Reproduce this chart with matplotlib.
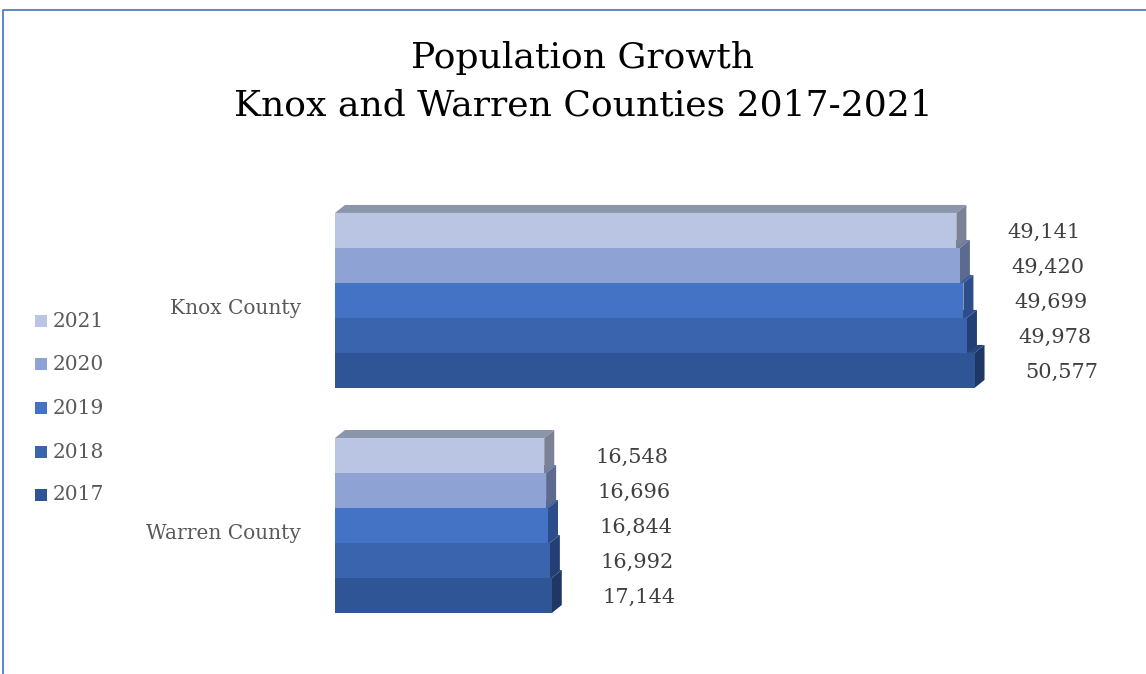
import matplotlib.pyplot as plt
from matplotlib.patches import Polygon, Rectangle
from matplotlib.lines import Line2D

# population by county, one list per year (bottom row first)
counties = ["Warren County", "Knox County"]
years = ["2017", "2018", "2019", "2020", "2021"]
warren_pop = [17144, 16992, 16844, 16696, 16548]
knox_pop = [50577, 49978, 49699, 49420, 49141]

# face colours per year: front, top, side
front_colors = ["#2F5597", "#3A64AD", "#4472C4", "#8FA2D4", "#BAC4E3"]
top_colors = ["#27467C", "#2F528F", "#375DA0", "#6B7AA3", "#8C96AB"]
side_colors = ["#1F3764", "#243F73", "#2C4C8A", "#5B6A8E", "#7B8296"]

FIG_W, FIG_H, DPI = 1146, 674, 100
FONT = "DejaVu Serif"


def px_box(left, top, right, bottom):
    """Figure-fraction rectangle from pixel edges."""
    return [left / FIG_W, 1 - bottom / FIG_H, (right - left) / FIG_W, (bottom - top) / FIG_H]


def draw_bar(ax, y0, value, front, top, side, dx, dy):
    """Front face, top face and right side of one 3D-looking bar."""
    y1 = y0 + 1
    ax.add_patch(Polygon([(0, y1), (dx, y1 + dy), (value + dx, y1 + dy), (value, y1)],
                         closed=True, facecolor=top, edgecolor="none"))
    ax.add_patch(Polygon([(value, y0), (value + dx, y0 + dy), (value + dx, y1 + dy), (value, y1)],
                         closed=True, facecolor=side, edgecolor="none"))
    ax.add_patch(Rectangle((0, y0), value, 1, facecolor=front, edgecolor="none"))


def main():
    fig = plt.figure(figsize=(FIG_W / DPI, FIG_H / DPI), dpi=DPI)

    # axes: value 0 sits at x=335px, one bar row is 35px tall
    ax_left, ax_top, ax_right, ax_bottom = 335, 180, 1100, 640
    row_px = 35
    base_px = 613
    xmax = 60500
    ax = fig.add_axes(px_box(ax_left, ax_top, ax_right, ax_bottom))
    ax.set_xlim(0, xmax)
    ax.set_ylim(-(ax_bottom - base_px) / row_px, (base_px - ax_top) / row_px)
    ax.axis("off")

    px_per_x = (ax_right - ax_left) / xmax
    dx = 10 / px_per_x
    dy = 8 / row_px

    group_base = [0, 6.43]
    for base, values, name in zip(group_base, [warren_pop, knox_pop], counties):
        for i, v in enumerate(values):
            y0 = base + i
            draw_bar(ax, y0, v, front_colors[i], top_colors[i], side_colors[i], dx, dy)
            ax.annotate(f"{v:,}", xy=(v, y0 + 0.5), xytext=(51, -2),
                        textcoords="offset pixels", ha="left", va="center",
                        fontsize=15, family=FONT, color="#404040")
        ax.annotate(name, xy=(0, base + 2.5), xytext=(-34, -8),
                    textcoords="offset pixels", ha="right", va="center",
                    fontsize=14.5, family=FONT, color="#595959")

    # legend, newest year on top
    legend_y = [321, 364, 408, 452, 495]
    for i, y in zip(range(len(years) - 1, -1, -1), legend_y):
        fig.add_artist(Rectangle((35 / FIG_W, 1 - (y + 6) / FIG_H), 12 / FIG_W, 12 / FIG_H,
                                 transform=fig.transFigure, facecolor=front_colors[i],
                                 edgecolor="none"))
        fig.text(53 / FIG_W, 1 - y / FIG_H, years[i], ha="left", va="center",
                 fontsize=14.5, family=FONT, color="#595959")

    fig.text(583 / FIG_W, 1 - 58 / FIG_H, "Population Growth", ha="center", va="center",
             fontsize=26, family=FONT, color="#000000")
    fig.text(583 / FIG_W, 1 - 105 / FIG_H, "Knox and Warren Counties 2017-2021",
             ha="center", va="center", fontsize=26, family=FONT, color="#000000")

    # chart frame (top and left edges only)
    fig.add_artist(Line2D([3 / FIG_W, 3 / FIG_W, 1], [0, 1 - 10 / FIG_H, 1 - 10 / FIG_H],
                          transform=fig.transFigure, color="#4472C4", linewidth=1.2))

    fig.savefig("out.png", dpi=DPI, facecolor="white")
    plt.close(fig)


if __name__ == "__main__":
    main()
